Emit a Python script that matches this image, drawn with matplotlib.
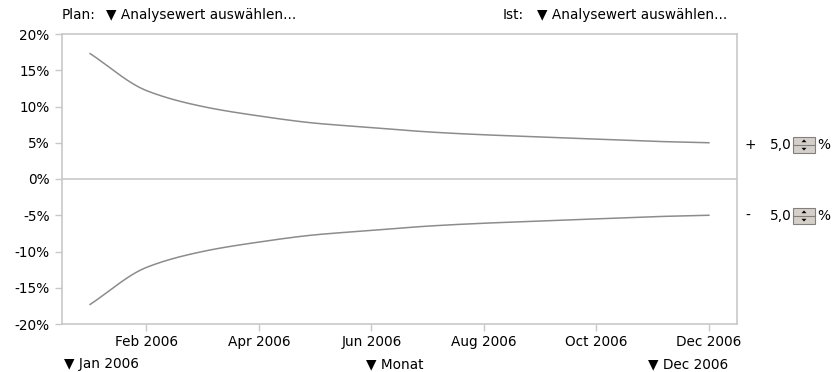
import numpy as np
import matplotlib.pyplot as plt
from matplotlib.patches import Rectangle, Polygon

plt.rcParams['font.family'] = ['DejaVu Sans']

months = ["Jan 2006", "Feb 2006", "Mar 2006", "Apr 2006", "May 2006", "Jun 2006",
          "Jul 2006", "Aug 2006", "Sep 2006", "Oct 2006", "Nov 2006", "Dec 2006"]
upper = [17.3, 12.2, 10.0, 8.7, 7.7, 7.1, 6.5, 6.1, 5.8, 5.5, 5.2, 5.0]
lower = [-17.3, -12.2, -10.0, -8.7, -7.7, -7.1, -6.5, -6.1, -5.8, -5.5, -5.2, -5.0]
yticks = [-20, -15, -10, -5, 0, 5, 10, 15, 20]
tolerance_plus = "5,0"
tolerance_minus = "5,0"

W, H = 840, 372
fig = plt.figure(figsize=(W / 100, H / 100), dpi=100)
ax = fig.add_axes([62 / W, 1 - 324 / H, (737 - 62) / W, (324 - 34) / H])

x = np.arange(len(months))
xs = np.linspace(0, len(months) - 1, 300)

def smooth(vals):
    # monotone cubic (PCHIP-like) interpolation done by hand
    y = np.array(vals, float)
    d = np.diff(y)
    m = np.zeros_like(y)
    m[0], m[-1] = d[0], d[-1]
    for i in range(1, len(y) - 1):
        if d[i - 1] * d[i] > 0:
            m[i] = 2 / (1 / d[i - 1] + 1 / d[i])
    out = []
    for t in xs:
        i = min(int(t), len(y) - 2)
        s = t - i
        h00 = 2 * s**3 - 3 * s**2 + 1
        h10 = s**3 - 2 * s**2 + s
        h01 = -2 * s**3 + 3 * s**2
        h11 = s**3 - s**2
        out.append(h00 * y[i] + h10 * m[i] + h01 * y[i + 1] + h11 * m[i + 1])
    return out

ax.plot(xs, smooth(upper), color="#8c8c8c", lw=1.1)
ax.plot(xs, smooth(lower), color="#8c8c8c", lw=1.1)
ax.axhline(0, color="#c8c8c8", lw=1.2)

ax.set_xlim(-0.5, 11.5)
ax.set_ylim(-20, 20)
ax.set_yticks(yticks)
ax.set_yticklabels([f"{v}%" for v in yticks])
ax.set_xticks(x[1::2])
ax.set_xticklabels(months[1::2])
for s in ax.spines.values():
    s.set_color("#c8c8c8")
    s.set_linewidth(1.2)
ax.tick_params(colors="#c8c8c8", labelcolor="#000000", labelsize=9.8, length=5, width=1)
ax.tick_params(axis="x", pad=3)
ax.tick_params(axis="y", pad=4)

fs = 9.8
def ftext(px, py, s, **kw):
    fig.text(px / W, 1 - py / H, s, fontsize=fs, va="center", **kw)

ftext(62, 15, "Plan:")
ftext(106, 15, "\u25bc Analysewert auswählen...")
ftext(503, 15, "Ist:")
ftext(537, 15, "\u25bc Analysewert auswählen...")
ftext(64, 364, "\u25bc Jan 2006")
ftext(366, 364, "\u25bc Monat")
ftext(648, 364, "\u25bc Dec 2006")

def spinner(py, sign, val):
    ftext(745, py, sign)
    ftext(770, py, val)
    x0, w, h = 793, 22, 16
    y0 = py - h / 2
    fig.patches.append(Rectangle((x0 / W, 1 - (y0 + h) / H), w / W, h / H,
                                 transform=fig.transFigure, facecolor="#d4d0c8",
                                 edgecolor="#808080", lw=0.8))
    fig.lines.append(plt.Line2D([x0 / W, (x0 + w) / W], [1 - py / H, 1 - py / H],
                                transform=fig.transFigure, color="#808080", lw=0.8))
    cx = x0 + w / 2
    for cy, d in ((py - 4, -1), (py + 4, 1)):
        pts = [((cx - 2.5) / W, 1 - (cy - d * 1.2) / H), ((cx + 2.5) / W, 1 - (cy - d * 1.2) / H),
               (cx / W, 1 - (cy + d * 1.5) / H)]
        fig.patches.append(Polygon(pts, closed=True, transform=fig.transFigure,
                                   facecolor="#000000", edgecolor="none"))
    ftext(817, py, "%")

spinner(145, "+", tolerance_plus)
spinner(216, "-", tolerance_minus)

fig.savefig("out.png", dpi=100)
